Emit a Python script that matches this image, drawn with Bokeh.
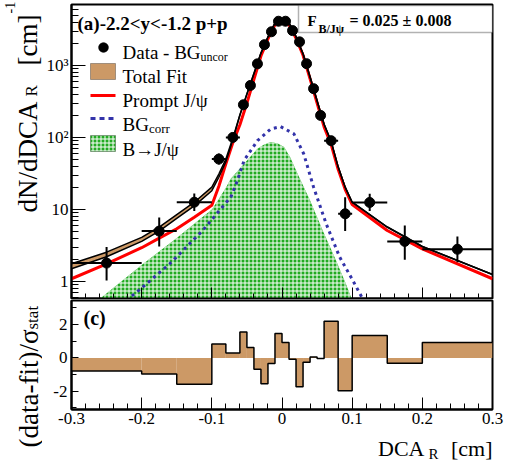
import math
from bokeh.plotting import figure
from bokeh.models import Range1d, FixedTicker, Label, BoxAnnotation, PolyAnnotation
from bokeh.layouts import column, row
from bokeh.embed import file_html
from bokeh.resources import INLINE

FONT = "Liberation Serif"
TAN = "#cc9966"
GREEN = "#22ab22"
BLUE = "#3333aa"

# ---- data ----
bin_edges = [-0.3, -0.2, -0.15, -0.1, -0.08, -0.06, -0.05, -0.04, -0.03, -0.02, -0.01, 0.0,
             0.01, 0.02, 0.03, 0.04, 0.05, 0.06, 0.08, 0.1, 0.15, 0.2, 0.3]
data_y = [1.8, 5.0, 12.6, 50, 100, 284, 527, 1050, 1940, 2930, 4100,
          4100, 3040, 2120, 1055, 475, 202, 90, 8.7, 12.5, 3.6, 2.8]
data_lo = [1.03, 3.06, 9.5, 42, 92, 270, 510, 1025, 1905, 2885, 4045,
           4045, 2995, 2085, 1030, 460, 192, 85, 5.0, 9.5, 2.0, 1.85]
data_hi = [3.0, 7.7, 16.7, 60, 108, 298, 545, 1075, 1975, 2975, 4155,
           4155, 3085, 2155, 1080, 490, 212, 95, 14.8, 16.5, 6.0, 4.2]
residual = [-0.78, -0.96, -1.58, 0.84, 0.30, 1.56, 0.62, -0.68, -1.56, -0.34, 1.46,
            0.92, -0.08, -1.74, -0.26, 0.06, -0.04, 2.2, -1.98, 1.34, -0.32, 0.92]

fit_x = [-0.3, -0.25, -0.2, -0.175, -0.15, -0.125, -0.1, -0.09, -0.08, -0.07, -0.06, -0.05,
         -0.04, -0.03, -0.02, -0.01, 0.0, 0.01, 0.02, 0.03, 0.04, 0.05, 0.06, 0.07, 0.08,
         0.09, 0.1, 0.15, 0.2, 0.3]
total_hi = [1.76, 2.55, 4.1, 5.7, 8.5, 12.6, 20.4, 31, 50, 98, 205, 400,
            770, 1480, 2480, 3850, 4250, 3900, 2500, 1450, 690, 322, 152, 88, 39,
            20.4, 12.6, 5.7, 3.06, 1.25]
total_lo = [1.5, 2.2, 3.6, 5.0, 7.5, 11.2, 18.2, 28, 46, 93, 205, 400,
            770, 1480, 2480, 3850, 4250, 3900, 2500, 1450, 690, 322, 152, 88, 39,
            20.4, 12.6, 5.7, 3.06, 1.25]
prompt = [1.09, 1.75, 2.94, 4.0, 5.4, 7.8, 11.4, 21, 43, 85, 150, 300,
          640, 1350, 2330, 3650, 4000, 3650, 2380, 1380, 650, 300, 140, 80, 36,
          19, 11.7, 5.1, 2.84, 1.09]

b_x = [-0.262, -0.2, -0.15, -0.1, -0.09, -0.08, -0.073, -0.054, -0.035, -0.026, -0.016,
       -0.006, 0.003, 0.012, 0.022, 0.04, 0.058, 0.077, 0.091, 0.1]
b_y = [0.55, 1.69, 4.0, 10, 14, 20, 26.6, 43, 69.5, 79, 86,
       82, 73.6, 52, 31.5, 13.3, 5.1, 1.96, 0.93, 0.55]

bg_x = [-0.222, -0.207, -0.16, -0.113, -0.089, -0.073, -0.065, -0.054, -0.035, -0.016,
        -0.002, 0.017, 0.031, 0.045, 0.063, 0.082, 0.101, 0.116]
bg_y = [0.55, 0.71, 1.76, 5.1, 9.7, 14.8, 23, 48, 90, 131,
        141, 112, 59, 20.4, 6.3, 2.2, 1.03, 0.55]

x_ticks = [-0.3, -0.2, -0.1, 0.0, 0.1, 0.2, 0.3]
x_tick_labels = ["-0.3", "-0.2", "-0.1", "0", "0.1", "0.2", "0.3"]
y_ticks = [1, 10, 100, 1000]
y_tick_labels = ["1", "10", "10\u00b2", "10\u00b3"]
r_ticks = [-2, 0, 2]
r_tick_labels = ["-2", "0", "2"]

centers = [(a + b) / 2 for a, b in zip(bin_edges[:-1], bin_edges[1:])]
x_minor = [round(-0.3 + 0.02 * i, 6) for i in range(31)]
y_minor = [m * 10 ** k for k in range(-1, 4) for m in range(2, 10)]

A = math.pi / 2
LW = 42            # width of the left title strip
PW = 505 - LW - 1  # width of the panels
BL = 71 - LW       # left border of the panels (frame starts at x=71)


def lab(p, text, x, y, size, bold=False, angle=0.0, align="left", baseline="alphabetic"):
    p.add_layout(Label(x=x, y=y, x_units="screen", y_units="screen", text=text,
                       text_font=FONT, text_font_size=f"{size}px",
                       text_font_style="bold" if bold else "normal",
                       angle=angle, text_align=align, text_baseline=baseline,
                       text_color="black"))


def box(p, l, r, b, t, **kw):
    p.add_layout(BoxAnnotation(left=l, right=r, bottom=b, top=t,
                               left_units="screen", right_units="screen",
                               bottom_units="screen", top_units="screen",
                               fill_alpha=1, **kw))


def style_axes(p):
    p.grid.visible = False
    p.outline_line_color = "black"
    p.outline_line_width = 2
    for ax in (p.xaxis[0], p.yaxis[0]):
        ax.axis_line_width = 2
        ax.axis_line_color = "black"
        ax.major_tick_out = 0
        ax.minor_tick_out = 0
        ax.major_tick_line_width = 1
        ax.minor_tick_line_width = 1
        ax.major_label_text_font = FONT
        ax.major_label_text_font_size = "17px"
        ax.major_label_text_color = "black"


def strip(w, h, left=0, right=0):
    s = figure(width=w, height=h, x_range=Range1d(0, 1), y_range=Range1d(0, 1),
               x_axis_type=None, y_axis_type=None, output_backend="svg",
               toolbar_location=None, min_border=0,
               min_border_left=left, min_border_right=right)
    s.grid.visible = False
    s.outline_line_color = None
    return s


# ---- upper panel ----
p1 = figure(width=PW, height=299, x_range=Range1d(-0.3, 0.3), y_range=Range1d(0.58, 7000),
            y_axis_type="log", output_backend="svg", toolbar_location=None,
            min_border_left=BL, min_border_right=12, min_border_top=4, min_border_bottom=1)
style_axes(p1)
p1.xaxis.ticker = FixedTicker(ticks=x_ticks, minor_ticks=x_minor)
p1.xaxis.major_label_overrides = {t: "" for t in x_ticks}
p1.xaxis.major_label_text_font_size = "1px"
p1.xaxis.major_label_standoff = 0
p1.xaxis.major_tick_in = 11
p1.xaxis.minor_tick_in = 5
p1.yaxis.ticker = FixedTicker(ticks=y_ticks, minor_ticks=y_minor)
p1.yaxis.major_label_overrides = dict(zip(y_ticks, y_tick_labels))
p1.yaxis.major_tick_in = 14
p1.yaxis.minor_tick_in = 7
p1.yaxis.major_label_standoff = 3

p1.varea(x=b_x, y1=[0.1] * len(b_x), y2=b_y, fill_color=GREEN,
         hatch_pattern="cross", hatch_color="white", hatch_scale=4, hatch_weight=1)
p1.line(bg_x, bg_y, line_color=BLUE, line_width=3, line_dash="3 4")
p1.varea(x=fit_x, y1=total_lo, y2=total_hi, fill_color=TAN)
p1.line(fit_x, prompt, line_color="red", line_width=3)
p1.line(fit_x, total_hi, line_color="black", line_width=1.5)
p1.line(fit_x, total_lo, line_color="black", line_width=1.5)

p1.segment(x0=bin_edges[:-1], x1=bin_edges[1:], y0=data_y, y1=data_y,
           line_color="black", line_width=2)
p1.segment(x0=centers, x1=centers, y0=data_lo, y1=data_hi, line_color="black", line_width=2)
p1.scatter(centers, data_y, marker="circle", size=10, fill_color="black", line_color="black")

# texts in upper panel (screen units relative to frame)
lab(p1, "(a)-2.2<y<-1.2 p+p", 6, 275, 19, bold=True)
box(p1, 227, 421, 266, 293, fill_color="white", line_color="black", line_width=1.5)
lab(p1, "F", 236, 278, 15, bold=True)
lab(p1, "B/J\u03c8", 247, 270, 12, bold=True)
lab(p1, "= 0.025 \u00b1 0.008", 278, 278, 16, bold=True)

# legend
circ_x = [32 + 5 * math.cos(2 * math.pi * k / 24) for k in range(24)]
circ_y = [251 + 5 * math.sin(2 * math.pi * k / 24) for k in range(24)]
p1.add_layout(PolyAnnotation(xs=circ_x, ys=circ_y, xs_units="screen", ys_units="screen",
                             fill_color="black", fill_alpha=1, line_color="black"))
box(p1, 19, 44, 219, 235, fill_color=TAN, line_color="black", line_width=1)
box(p1, 19, 44, 201.5, 204.5, fill_color="red", line_color=None)
for d0 in (19, 28, 37):
    box(p1, d0, d0 + 5, 178.5, 181.5, fill_color=BLUE, line_color=None)
box(p1, 19, 44, 147, 163, fill_color=GREEN, line_color="black", line_width=1,
    hatch_pattern="cross", hatch_color="white", hatch_scale=4, hatch_weight=1)
lab(p1, "Data - BG", 51, 246, 19)
lab(p1, "uncor", 129, 242, 12)
lab(p1, "Total Fit", 51, 222, 19)
lab(p1, "Prompt J/\u03c8", 51, 198, 19)
lab(p1, "BG", 51, 174, 19)
lab(p1, "corr", 77.5, 170, 13)
lab(p1, "B\u2192J/\u03c8", 51, 149, 19)

# ---- lower panel ----
p2 = figure(width=PW, height=137, x_range=p1.x_range, y_range=Range1d(-3.1, 3.45),
            output_backend="svg", toolbar_location=None,
            min_border_left=BL, min_border_right=12, min_border_top=1, min_border_bottom=27)
style_axes(p2)
p2.xaxis.ticker = FixedTicker(ticks=x_ticks, minor_ticks=x_minor)
p2.xaxis.major_label_overrides = dict(zip(x_ticks, x_tick_labels))
p2.xaxis.major_tick_in = 12
p2.xaxis.minor_tick_in = 6
p2.xaxis.major_label_standoff = 3
p2.yaxis.ticker = FixedTicker(ticks=r_ticks, minor_ticks=[-3, -1, 1, 3])
p2.yaxis.major_label_overrides = dict(zip(r_ticks, r_tick_labels))
p2.yaxis.major_tick_in = 7
p2.yaxis.minor_tick_in = 5
p2.yaxis.major_label_standoff = 4

p2.quad(left=bin_edges[:-1], right=bin_edges[1:], bottom=0, top=residual,
        fill_color=TAN, line_color=None)
p2.step(x=bin_edges, y=residual + [residual[-1]], mode="after",
        line_color="black", line_width=1.5)
lab(p2, "(c)", 12, 92, 20, bold=True)

# ---- left strip: y axis titles (rotated, middle-anchored) ----
L = strip(LW, 461)
lab(L, "dN/dDCA", 27, 249, 27, angle=A, baseline="middle")
lab(L, "R", 31, 365, 17, angle=A, baseline="middle")
lab(L, "[cm]", 27, 396, 27, angle=A, baseline="middle")
lab(L, "-1", 9, 448, 14, angle=A, baseline="middle")
lab(L, "(data-fit)/\u03c3", 28, 14, 27, angle=A, baseline="middle")
lab(L, "stat", 32, 132, 17, angle=A, baseline="middle")

# ---- bottom strip: x axis title (frame aligned with the panels above) ----
B = strip(PW, 25, left=BL, right=12)
lab(B, "DCA", 353, 13, 22, align="right")
lab(B, "R", 357, 8, 15)
lab(B, "[cm]", 421, 13, 22, align="right")

layout = row(L, column(p1, p2, B))
open("out.html", "w").write(file_html(layout, INLINE))
